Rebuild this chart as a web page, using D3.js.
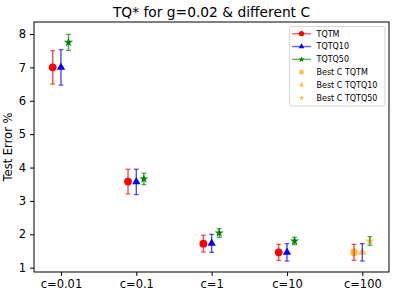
<!DOCTYPE html>
<html><head><meta charset="utf-8">
<script src="https://cdn.jsdelivr.net/npm/d3@7"></script>
<style>body{margin:0;background:#fff}svg{display:block;font-family:"DejaVu Sans",sans-serif}</style>
</head><body><svg id="c" width="398" height="296"></svg>
<script>
const categories = ["c=0.01","c=0.1","c=1","c=10","c=100"];
const tqtmMean = [7.0, 3.58, 1.72, 1.46, 1.46];
const tqtmErr  = [0.5, 0.37, 0.25, 0.24, 0.24];
const tq10Mean = [7.0, 3.57, 1.73, 1.46, 1.46];
const tq10Err  = [0.53, 0.38, 0.27, 0.26, 0.26];
const tq50Mean = [7.75, 3.66, 2.04, 1.80, 1.80];
const tq50Err  = [0.24, 0.17, 0.13, 0.11, 0.13];
const bestIndex = 4;
const yTicks = [1,2,3,4,5,6,7,8];

const svg = d3.select("#c");
const L=34,R=389,T=22,B=272;
const x = d3.scaleLinear().domain([-0.358,4.354]).range([L,R]);
const y = d3.scaleLinear().domain([0.871,8.359]).range([B,T]);

const series = [
  {name:"TQTM", mean:tqtmMean, err:tqtmErr, color:"#ff0000", off:-0.11, sym:"circle"},
  {name:"TQTQ10", mean:tq10Mean, err:tq10Err, color:"#0000ff", off:0, sym:"triangle"},
  {name:"TQTQ50", mean:tq50Mean, err:tq50Err, color:"#008000", off:0.10, sym:"star"}
];
const orange = "#ffa500";

function sym(type, size){
  if(type==="circle") return d3.symbol(d3.symbolCircle, size)();
  if(type==="triangle") return d3.symbol(d3.symbolTriangle, size)();
  return d3.symbol(d3.symbolStar, size)();
}
const sizes = {circle:48, triangle:30, star:26};

const gx = svg.append("g").attr("transform",`translate(0,${B})`)
  .call(d3.axisBottom(x).tickValues(d3.range(categories.length)).tickFormat(i=>categories[i]).tickSize(4).tickPadding(4));
const gy = svg.append("g").attr("transform",`translate(${L},0)`)
  .call(d3.axisLeft(y).tickValues(yTicks).tickFormat(d3.format("d")).tickSize(4).tickPadding(4));
[gx,gy].forEach(g=>{g.select(".domain").remove();g.selectAll("text").attr("font-size","11.5px").attr("fill","#000").attr("font-family","DejaVu Sans");g.selectAll("line").attr("stroke","#000");});

const plot = svg.append("g");
series.forEach(s=>{
  plot.append("path").attr("d",sym(s.sym,sizes[s.sym]))
    .attr("transform",`translate(${x(bestIndex+s.off)},${y(s.mean[bestIndex])})`)
    .attr("fill",orange).attr("opacity",0.7);
});

series.forEach(s=>{
  const g = plot.append("g");
  s.mean.forEach((m,i)=>{
    const cx = x(i+s.off), y1=y(m+s.err[i]), y0=y(m-s.err[i]);
    g.append("line").attr("x1",cx).attr("x2",cx).attr("y1",y1).attr("y2",y0).attr("stroke",s.color).attr("stroke-width",1.4).attr("opacity",0.7);
    [y1,y0].forEach(yy=>g.append("line").attr("x1",cx-2.4).attr("x2",cx+2.4).attr("y1",yy).attr("y2",yy).attr("stroke",s.color).attr("stroke-width",1.2).attr("opacity",0.7));
    if(i!==bestIndex){
      g.append("path").attr("d",sym(s.sym,sizes[s.sym])).attr("transform",`translate(${cx},${y(m)})`).attr("fill",s.color);
    }
  });
});

svg.append("rect").attr("x",L).attr("y",T).attr("width",R-L).attr("height",B-T).attr("fill","none").attr("stroke","#000").attr("stroke-width",1);

svg.append("text").attr("x",(L+R)/2).attr("y",17).attr("text-anchor","middle").attr("font-size","13.8px").text("TQ* for g=0.02 & different C");
svg.append("text").attr("transform",`translate(12,${(T+B)/2}) rotate(-90)`).attr("text-anchor","middle").attr("font-size","11.5px").text("Test Error %");

const lg = svg.append("g");
lg.append("rect").attr("x",289.5).attr("y",26.5).attr("width",95.5).attr("height",79.5).attr("rx",2).attr("fill","#fff").attr("fill-opacity",0.8).attr("stroke","#ccc").attr("stroke-width",0.8);
const legItems = [
  ...series.map(s=>({label:s.name,color:s.color,sym:s.sym,line:true})),
  ...series.map(s=>({label:"Best C "+s.name,color:orange,sym:s.sym,line:false}))
];
legItems.forEach((d,i)=>{
  const yy = 33.7 + i*12.85;
  if(d.line){
    lg.append("line").attr("x1",292).attr("x2",311).attr("y1",yy).attr("y2",yy).attr("stroke",d.color).attr("stroke-width",1.4).attr("opacity",0.6);
    lg.append("path").attr("d",sym(d.sym,sizes[d.sym]*0.45)).attr("transform",`translate(301.5,${yy})`).attr("fill",d.color);
  } else {
    lg.append("path").attr("d",sym(d.sym,sizes[d.sym]*0.4)).attr("transform",`translate(301.5,${yy})`).attr("fill",d.color).attr("opacity",0.7);
  }
  lg.append("text").attr("x",316.5).attr("y",yy).attr("dy","0.35em").attr("font-size","8px").text(d.label);
});
</script></body></html>
